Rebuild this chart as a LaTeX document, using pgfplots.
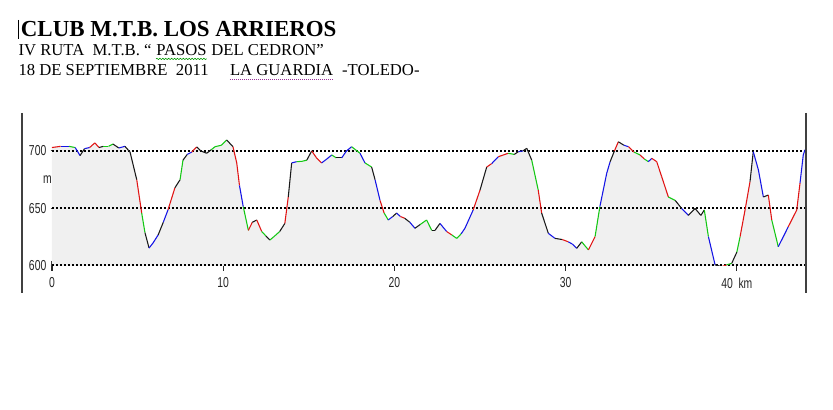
\documentclass[border=0pt]{standalone}
\usepackage{pgfplots}
\pgfplotsset{compat=1.18}
\usepackage{pgfplotstable}
\usepackage{fontspec}
\setmainfont{Liberation Serif}
\newfontfamily\lsans{Liberation Sans}
\usetikzlibrary{decorations.pathmorphing}
\newcommand{\lbl}[1]{\scalebox{0.72}[1]{#1}}

\pgfplotstableread{
x y c
0 703 0
0.5 704 2
1.0 704 1
1.35 703 2
1.64 696 3
1.9 702 2
2.2 703 0
2.5 707 0
2.75 703 3
3.0 704 1
3.3 704 1
3.56 706 3
3.9 702.6 2
4.26 704 3
4.56 699 3
4.95 675 0
5.24 646 1
5.43 629 3
5.67 615.6 2
5.9 620 2
6.2 627 3
6.5 638 2
6.78 649 0
7.18 668 3
7.48 675 1
7.65 692 3
7.9 697 2
8.16 699 0
8.45 703.5 3
8.7 700 3
9.03 698 3
9.3 701 1
9.52 703.7 1
9.9 705 1
10.2 709.6 3
10.57 703.7 0
10.79 689.6 0
10.95 670 2
11.17 651.6 1
11.47 631 0
11.7 638 3
11.96 640 0
12.25 630 1
12.5 626 3
12.73 622.6 1
13.0 626 1
13.3 630 3
13.6 637 0
13.8 660 3
14.0 689.6 2
14.29 690.7 1
14.6 691 1
14.88 692 3
15.17 700 0
15.45 694 0
15.75 689.6 2
16.05 693 2
16.34 696.5 1
16.6 694 3
16.92 694 2
17.2 700 2
17.5 703.7 1
17.99 698 2
18.28 689.6 1
18.67 686 3
18.87 675 2
19.16 657 0
19.4 646 1
19.64 640 2
19.9 643 3
20.13 646 2
20.35 643 0
20.6 641.5 3
20.9 638 2
21.2 632.8 3
21.5 636 1
21.88 640 1
22.18 631 3
22.37 631 3
22.66 637 2
23.05 630 0
23.35 627 1
23.64 624 1
23.9 628 2
24.12 632.8 2
24.6 648.7 0
25.0 666 3
25.39 686 0
25.68 689 2
26.07 695 0
26.65 698 1
27.0 697 3
27.24 699.4 2
27.5 700 3
27.73 702.3 3
28.02 692 1
28.4 666 0
28.6 646 3
28.99 628.4 2
29.38 624 3
29.8 623 0
30.16 621 2
30.4 619 2
30.65 615.4 3
30.94 621 1
31.33 614 0
31.72 625.5 1
32.0 651.6 2
32.4 680.6 2
32.6 690.7 3
32.85 700 0
33.08 708 3
33.4 705 2
33.67 703.7 0
34.0 699 1
34.35 696.5 0
34.6 693 1
34.83 690.7 2
35.03 693.6 0
35.32 690.7 0
35.61 677.7 0
36.0 660 1
36.4 657 3
36.78 650 2
37.17 644 3
37.56 650 3
37.9 644 3
38.1 648.7 1
38.34 625.5 2
38.73 601 3
39.12 599.4 0
39.4 601 1
39.7 602.3 3
40.0 612 1
40.19 625.5 0
40.48 648.7 0
40.77 673.3 3
40.96 699.4 2
41.26 683.5 2
41.55 660 3
41.84 661.7 0
42.04 640 1
42.42 616.8 2
42.7 625 2
43.0 634 0
43.5 648.7 0
43.69 672 2
43.88 696.5 2
43.98 701 1
}\prof

\begin{document}
\begin{tikzpicture}
\useasboundingbox (0,0) rectangle (624.75pt,307.5pt);
\fill[white] (0,0) rectangle (624.75pt,307.5pt);
\begin{axis}[
  at={(39pt,108pt)}, anchor=south west,
  scale only axis, width=565.5pt, height=114.75pt,
  xmin=0, xmax=44.04, ymin=600, ymax=733,
  axis line style={draw=none},
  xtick={0,10,20,30,40}, ytick={600,650,700},
  xticklabels={\lbl{0},\lbl{10},\lbl{20},\lbl{30},\lbl{40\ \ km}},
  yticklabels={\lbl{600},\lbl{650},\lbl{700}},
  tick label style={font=\lsans\fontsize{10.8pt}{11pt}\selectfont, text=black!85},
  xticklabel style={yshift=-1.5pt},
  yticklabel style={xshift=3pt},
  xtick pos=bottom, ytick pos=left,
  tick align=center,
  major tick length=7.5pt,
  tick style={black!85, line width=0.8pt},
  ytick style={/pgfplots/major tick length=2pt},
  colormap={prof}{rgb255=(225,20,20) rgb255=(20,200,20) rgb255=(20,20,230) rgb255=(25,25,25)},
]
\addplot[fill=black!6, draw=none] table[x=x,y=y]{\prof} \closedcycle;
\addplot[black, line width=1.4pt, dash pattern=on 1.6pt off 1.4pt] coordinates {(0,700) (44.04,700)};
\addplot[black, line width=1.4pt, dash pattern=on 1.6pt off 1.4pt] coordinates {(0,650.3) (44.04,650.3)};
\addplot[black, line width=1.4pt, dash pattern=on 1.6pt off 1.4pt] coordinates {(0,600.6) (44.04,600.6)};
\addplot[mesh, shader=flat corner, colormap access=direct, point meta=explicit, line width=0.8pt] table[x=x,y=y,meta=c]{\prof};
\end{axis}
% frame lines
\draw[black!75, line width=1pt] (16.5pt,222.75pt) -- (16.5pt,87.75pt);
\draw[black!75, line width=1pt] (604.5pt,222.75pt) -- (604.5pt,87.75pt);
% axis unit label
\node[font=\lsans\fontsize{10.8pt}{11pt}\selectfont, text=black!85] at (35.5pt,172.5pt) {\lbl{m}};
% titles
\draw[black, line width=0.8pt] (13.9pt,292.5pt) -- (13.9pt,278.25pt);
\node[anchor=base west, inner sep=0pt, font=\bfseries\fontsize{17.2pt}{20pt}\selectfont] at (15.5pt,279.75pt) {CLUB M.T.B. LOS ARRIEROS};
\node (a) [anchor=base west, inner sep=0pt, font=\fontsize{12.5pt}{14pt}\selectfont] at (13.7pt,265.5pt) {IV RUTA\ \ M.T.B.\ “\ \mbox{}};
\node (b) [anchor=base west, inner sep=0pt, font=\fontsize{12.5pt}{14pt}\selectfont] at (a.base east) {PASOS};
\node (c) [anchor=base west, inner sep=0pt, font=\fontsize{12.5pt}{14pt}\selectfont] at (b.base east) {\mbox{}\ DEL CEDRON”};
\draw[green!60!black, line width=0.45pt, decorate, decoration={snake, amplitude=0.5pt, segment length=2.2pt}] ([yshift=-2.2pt]b.base west) -- ([yshift=-2.2pt]b.base east);
\node (d) [anchor=base west, inner sep=0pt, font=\fontsize{12.5pt}{14pt}\selectfont] at (13.7pt,250.5pt) {18 DE SEPTIEMBRE\ \ 2011\ \ \ \ \ \mbox{}};
\node (e) [anchor=base west, inner sep=0pt, font=\fontsize{12.5pt}{14pt}\selectfont] at (d.base east) {LA GUARDIA};
\node (f) [anchor=base west, inner sep=0pt, font=\fontsize{12.5pt}{14pt}\selectfont] at (e.base east) {\mbox{}\ \ -TOLEDO-};
\draw[violet!80, line width=0.6pt, dash pattern=on 0.6pt off 0.9pt] ([yshift=-2.2pt]e.base west) -- ([yshift=-2.2pt]e.base east);
\end{tikzpicture}
\end{document}
